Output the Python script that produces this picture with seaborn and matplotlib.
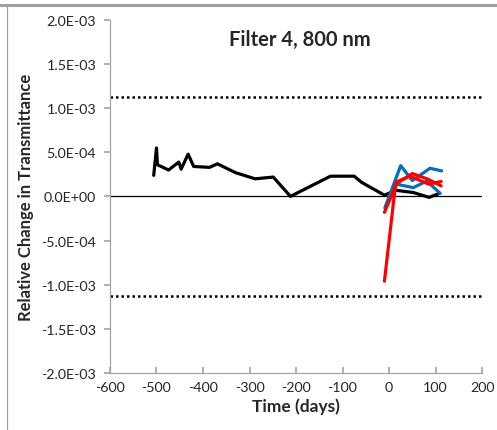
import matplotlib
matplotlib.use("Agg")
import matplotlib.pyplot as plt
import matplotlib.ticker as mticker
from matplotlib.lines import Line2D
import seaborn as sns
import pandas as pd

# dados
preto_x = [-506, -500, -498, -474, -452, -447, -432, -420, -386, -369, -330, -288, -249,
           -212, -126, -75, -59, -10, 15, 52, 86, 108]
preto_y = [2.4e-4, 5.5e-4, 3.6e-4, 3.0e-4, 3.9e-4, 3.1e-4, 4.8e-4, 3.4e-4, 3.3e-4, 3.7e-4,
           2.7e-4, 2.0e-4, 2.2e-4, 0.1e-5, 2.3e-4, 2.3e-4, 1.6e-4, 0.15e-4, 0.7e-4, 0.45e-4,
           -0.1e-4, 0.35e-4]

azul1_x = [-9, 25, 50, 88, 113]
azul1_y = [-1.3e-4, 3.5e-4, 1.8e-4, 3.2e-4, 2.9e-4]
azul2_x = [-6, 16, 52, 81, 110]
azul2_y = [-0.9e-4, 1.4e-4, 1.0e-4, 1.75e-4, 0.35e-4]

verm1_x = [-10, 14, 50, 82, 112]
verm1_y = [-9.6e-4, 1.4e-4, 2.6e-4, 2.0e-4, 1.2e-4]
verm2_x = [-10, 18, 45, 85, 112]
verm2_y = [-1.8e-4, 1.7e-4, 2.3e-4, 1.4e-4, 1.7e-4]

limite = 1.13e-3
x_ticks = [-600, -500, -400, -300, -200, -100, 0, 100, 200]
y_ticks = [-2e-3, -1.5e-3, -1e-3, -5e-4, 0, 5e-4, 1e-3, 1.5e-3, 2e-3]

series = [
    ("preto", preto_x, preto_y, "black"),
    ("azul1", azul1_x, azul1_y, "#0070C0"),
    ("azul2", azul2_x, azul2_y, "#0070C0"),
    ("verm1", verm1_x, verm1_y, "#FF0000"),
    ("verm2", verm2_x, verm2_y, "#FF0000"),
]

sns.set_theme(style="white")
plt.rcParams["font.family"] = ["Lato", "DejaVu Sans"]
plt.rcParams["axes.unicode_minus"] = False

fig = plt.figure(figsize=(4.97, 4.31), dpi=100)
ax = fig.add_axes([0.2213, 0.1323, 0.7487, 0.819])

for nome, xs, ys, cor in series:
    df = pd.DataFrame({"x": xs, "y": ys})
    sns.lineplot(data=df, x="x", y="y", sort=False, estimator=None,
                 color=cor, linewidth=2.3, ax=ax)

ax.axhline(0, color="black", linewidth=0.9, zorder=1)
for v in (limite, -limite):
    ax.plot([-600, 200], [v, v], color="black", linestyle=(0, (1, 1.2)),
            linewidth=1.8)

ax.set_xlim(-600, 200)
ax.set_ylim(-2e-3, 2e-3)
ax.set_xticks(x_ticks)
ax.set_yticks(y_ticks)
ax.yaxis.set_major_formatter(mticker.FuncFormatter(
    lambda v, p: "0.0E+00" if v == 0 else f"{v:.1E}"))
ax.tick_params(axis="y", direction="out", length=4, color="#A6A6A6", labelsize=10.3, pad=6)
ax.tick_params(axis="x", direction="in", length=4, color="#A6A6A6", labelsize=10.3, pad=6)
ax.tick_params(left=True, bottom=True)

for s in ("top", "right"):
    ax.spines[s].set_visible(False)
for s in ("left", "bottom"):
    ax.spines[s].set_color("#A6A6A6")
    ax.spines[s].set_linewidth(0.9)

ax.set_xlabel("Time (days)", fontsize=12.5, fontweight="bold", labelpad=3)
ax.set_ylabel("Relative Change in Transmittance", fontsize=12, fontweight="bold", labelpad=5)
ax.text(0.51, 0.945, "Filter 4, 800 nm", transform=ax.transAxes, ha="center",
        va="center", fontsize=14.5, fontweight="bold")

# borda do quadro
fig.add_artist(Line2D([0, 1], [0.986, 0.986], color="#A0A0A0", linewidth=2.2))
fig.add_artist(Line2D([0.014, 0.014], [0, 0.986], color="#A0A0A0", linewidth=0.9))

fig.savefig("out.png", dpi=100)
